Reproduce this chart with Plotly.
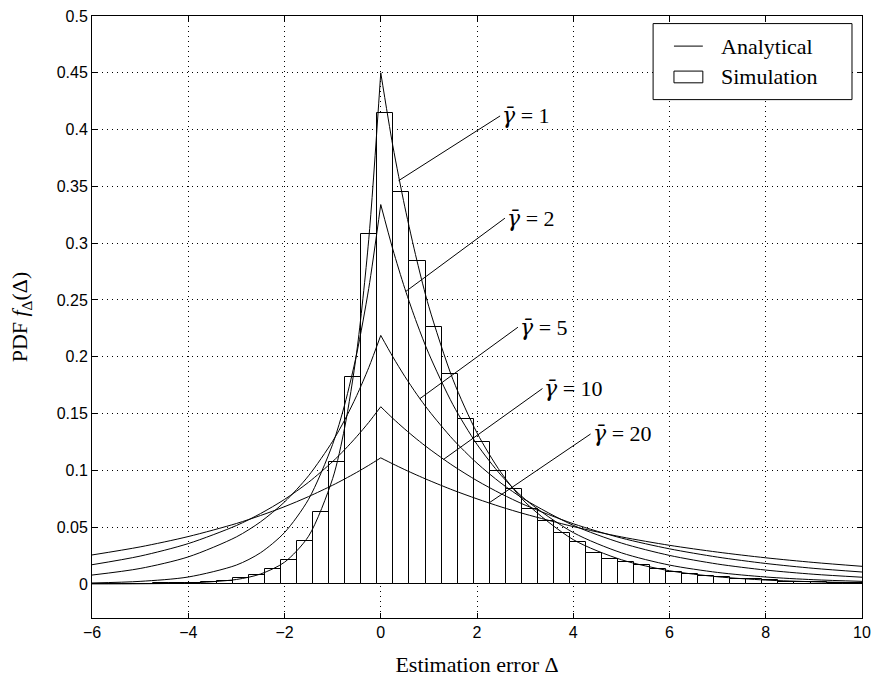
import numpy as np
import plotly.graph_objects as go

# ---------------- data ----------------
# Histogram of simulated estimation error (bin width 1/3, first left edge -6.07)
bin_first_left = -6.07
bin_width = 1.0 / 3.0
sim_density = [0.0001, 0.0002, 0.0002, 0.0003, 0.0004, 0.0006, 0.0009, 0.0015,
               0.0026, 0.0049, 0.0078, 0.0130, 0.0211, 0.0377, 0.0635, 0.1070,
               0.1826, 0.3078, 0.4144, 0.3450, 0.2840, 0.2263, 0.1852, 0.1452,
               0.1252, 0.0991, 0.0832, 0.0661, 0.0557, 0.0446, 0.0368, 0.0275,
               0.0217, 0.0191, 0.0168, 0.0133, 0.0104, 0.0087, 0.0070, 0.0058,
               0.0040, 0.0040, 0.0032, 0.0020, 0.0017, 0.0014, 0.0010, 0.0008,
               0.0006]

# Analytical PDF curves, read at sample points (left branch Δ<=0, right branch Δ>=0)
delta_left = [-6, -5, -4, -3, -2.5, -2, -1.5, -1, -0.75, -0.5, -0.25, 0]
delta_right = [0, 0.25, 0.5, 0.75, 1, 1.5, 2, 2.5, 3, 4, 5, 6, 7, 8, 9, 10]

g1_left = [0.00003, 0.00017, 0.0008, 0.0039, 0.0087, 0.0191, 0.042, 0.0927, 0.1376, 0.204, 0.303, 0.45]
g1_right = [0.45, 0.386, 0.332, 0.285, 0.244, 0.18, 0.133, 0.098, 0.072, 0.039, 0.0213, 0.0116, 0.0063, 0.0034, 0.0019, 0.001]

g2_left = [0.00083, 0.00225, 0.0061, 0.0166, 0.0274, 0.0452, 0.0745, 0.1229, 0.1578, 0.2026, 0.2601, 0.334]
g2_right = [0.334, 0.2948, 0.2601, 0.2296, 0.2026, 0.1578, 0.1229, 0.0957, 0.0745, 0.0452, 0.0274, 0.0166, 0.0101, 0.0061, 0.0037, 0.00225]

g5_left = [0.0078, 0.0136, 0.0238, 0.0414, 0.0546, 0.0721, 0.0952, 0.1256, 0.1443, 0.1658, 0.1904, 0.2188]
g5_right = [0.2188, 0.2, 0.1827, 0.1669, 0.1525, 0.1273, 0.1063, 0.0887, 0.0741, 0.0516, 0.036, 0.0251, 0.0175, 0.0122, 0.0085, 0.0059]

g10_left = [0.0169, 0.0245, 0.0355, 0.0514, 0.0619, 0.0744, 0.0895, 0.1077, 0.1182, 0.1297, 0.1422, 0.156]
g10_right = [0.156, 0.1458, 0.1363, 0.1274, 0.1191, 0.1041, 0.0909, 0.0794, 0.0694, 0.053, 0.0404, 0.0309, 0.0236, 0.018, 0.0137, 0.0105]

g20_left = [0.0255, 0.0326, 0.0417, 0.0532, 0.0602, 0.068, 0.0769, 0.0869, 0.0924, 0.0982, 0.1044, 0.111]
g20_right = [0.111, 0.1057, 0.1006, 0.0958, 0.0912, 0.0826, 0.0749, 0.0678, 0.0615, 0.0505, 0.0414, 0.034, 0.028, 0.023, 0.0189, 0.0155]

curve_names = ["1", "2", "5", "10", "20"]
curves_left = [g1_left, g2_left, g5_left, g10_left, g20_left]
curves_right = [g1_right, g2_right, g5_right, g10_right, g20_right]

# label annotations: (text left x, text centre y) and pointer end on the curve
label_text_pos = [(2.48, 0.412), (2.58, 0.322), (2.85, 0.226), (3.36, 0.172), (4.36, 0.132)]
label_point = [(0.37, 0.355), (0.52, 0.2575), (0.81, 0.163), (1.3, 0.1095), (2.25, 0.0713)]

x_ticks = [-6, -4, -2, 0, 2, 4, 6, 8, 10]
y_ticks = [0, 0.05, 0.1, 0.15, 0.2, 0.25, 0.3, 0.35, 0.4, 0.45, 0.5]
y_tick_text = ["0", "0.05", "0.1", "0.15", "0.2", "0.25", "0.3", "0.35", "0.4", "0.45", "0.5"]

legend_labels = ["Analytical", "Simulation"]

# ---------------- figure ----------------
serif = "Liberation Serif"
sans = "Liberation Sans"

centers = bin_first_left + bin_width / 2 + bin_width * np.arange(len(sim_density))

fig = go.Figure()
fig.add_trace(go.Bar(
    x=centers, y=sim_density, width=bin_width,
    marker=dict(color="white", line=dict(color="black", width=1)),
    name=legend_labels[1], showlegend=False,
))

for i, (name, yl, yr) in enumerate(zip(curve_names, curves_left, curves_right)):
    for xs, ys in ((delta_left, yl), (delta_right, yr)):
        fig.add_trace(go.Scatter(
            x=xs, y=ys, mode="lines",
            line=dict(color="black", width=1, shape="spline", smoothing=0.8),
            name=legend_labels[0], showlegend=False,
        ))

for name, (tx, ty), (px, py) in zip(curve_names, label_text_pos, label_point):
    fig.add_annotation(
        x=px, y=py, ax=tx, ay=ty, axref="x", ayref="y", xref="x", yref="y",
        text="<span style='font-family:DejaVu Serif'><i>\u03b3\u0304</i></span> = " + name,
        showarrow=True, arrowhead=0,
        arrowwidth=1, arrowcolor="black", standoff=0,
        font=dict(family=serif, size=22, color="black"),
        xanchor="left", yanchor="middle",
    )

# custom legend box (Analytical line sample, Simulation rectangle sample)
fig.add_shape(type="rect", xref="paper", yref="paper", x0=0.7287, x1=0.987, y0=0.8611, y1=0.9874,
              line=dict(color="black", width=1), fillcolor="white", layer="above")
fig.add_shape(type="line", xref="paper", yref="paper", x0=0.7558, x1=0.7933, y0=0.950, y1=0.950,
              line=dict(color="black", width=1), layer="above")
fig.add_shape(type="rect", xref="paper", yref="paper", x0=0.7558, x1=0.7933, y0=0.889, y1=0.9085,
              line=dict(color="black", width=1), fillcolor="white", layer="above")
fig.add_annotation(xref="paper", yref="paper", x=0.814, y=0.950, text=legend_labels[0],
                   showarrow=False, xanchor="left", yanchor="middle",
                   font=dict(family=serif, size=22, color="black"))
fig.add_annotation(xref="paper", yref="paper", x=0.814, y=0.899, text=legend_labels[1],
                   showarrow=False, xanchor="left", yanchor="middle",
                   font=dict(family=serif, size=22, color="black"))

axis_common = dict(
    showline=True, linecolor="black", linewidth=1, mirror="ticks",
    ticks="inside", ticklen=5, tickcolor="black", tickwidth=1,
    showgrid=True, gridcolor="black", gridwidth=1, griddash="1px,4px",
    zeroline=False,
    tickfont=dict(family=sans, size=16, color="black"),
)

fig.update_xaxes(
    range=[-6, 10], tickvals=x_ticks,
    title=dict(text="Estimation error \u0394", font=dict(family=serif, size=22, color="black"), standoff=16),
    **axis_common,
)
fig.update_yaxes(
    range=[-0.03, 0.5], tickvals=y_ticks, ticktext=y_tick_text,
    title=dict(text="PDF <i>f</i><sub>\u0394</sub>(\u0394)", font=dict(family=serif, size=22, color="black"), standoff=22),
    **axis_common,
)

fig.update_layout(
    width=879, height=683,
    margin=dict(l=92, r=13, t=8, b=65),
    plot_bgcolor="white", paper_bgcolor="white",
    bargap=0, barmode="overlay",
    showlegend=False,
)

fig.write_html("out.html")
